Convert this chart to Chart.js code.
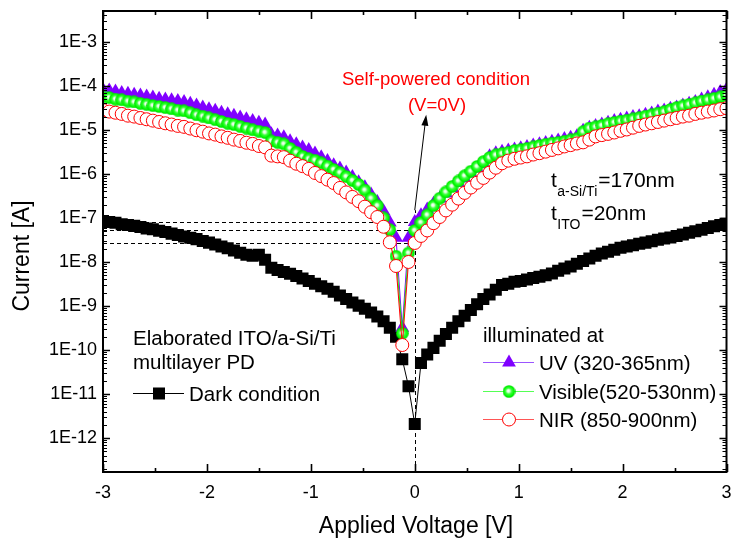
<!DOCTYPE html>
<html>
<head>
<meta charset="utf-8">
<title>I-V curves</title>
<script src="https://cdn.jsdelivr.net/npm/chart.js@4.4.1/dist/chart.umd.min.js"></script>
<style>
  html, body { margin: 0; padding: 0; background: #fff; }
  #wrap { width: 735px; height: 545px; }
</style>
</head>
<body>
<div id="wrap"><canvas id="iv-chart" width="735" height="545"></canvas></div>
<script>
// Applied voltage [V], shared by all sweeps
const voltage = [
  -3, -2.94, -2.88, -2.82, -2.76, -2.7, -2.64, -2.58, -2.52, -2.46,
  -2.4, -2.34, -2.28, -2.22, -2.16, -2.1, -2.04, -1.98, -1.92, -1.86,
  -1.8, -1.74, -1.68, -1.62, -1.56, -1.5, -1.44, -1.38, -1.32, -1.26,
  -1.2, -1.14, -1.08, -1.02, -0.96, -0.9, -0.84, -0.78, -0.72, -0.66,
  -0.6, -0.54, -0.48, -0.42, -0.36, -0.3, -0.24, -0.18, -0.12, -0.06,
  0,
  0.06, 0.12, 0.18, 0.24, 0.3, 0.36, 0.42, 0.48, 0.54, 0.6,
  0.66, 0.72, 0.78, 0.84, 0.9, 0.96, 1.02, 1.08, 1.14, 1.2,
  1.26, 1.32, 1.38, 1.44, 1.5, 1.56, 1.62, 1.68, 1.74, 1.8,
  1.86, 1.92, 1.98, 2.04, 2.1, 2.16, 2.22, 2.28, 2.34, 2.4,
  2.46, 2.52, 2.58, 2.64, 2.7, 2.76, 2.82, 2.88, 2.94, 3
];

// Current [A]
const darkCurrent = [
  8.5e-8, 8.1e-8, 7.8e-8, 7.2e-8, 6.9e-8, 6.6e-8, 6.2e-8, 5.75e-8, 5.5e-8, 5.1e-8,
  4.8e-8, 4.4e-8, 4.1e-8, 3.8e-8, 3.55e-8, 3.3e-8, 3.0e-8, 2.75e-8, 2.5e-8, 2.25e-8,
  2.05e-8, 1.82e-8, 1.62e-8, 1.45e-8, 1.38e-8, 1.45e-8, 1.12e-8, 7.4e-9, 6.6e-9, 5.9e-9,
  5.4e-9, 4.8e-9, 4.2e-9, 3.7e-9, 3.2e-9, 2.8e-9, 2.45e-9, 2.1e-9, 1.74e-9, 1.45e-9,
  1.2e-9, 1.02e-9, 8.7e-10, 7.1e-10, 5.75e-10, 4.5e-10, 3.2e-10, 2.0e-10, 6.2e-11, 1.5e-11,
  2.1e-12,
  5.1e-11, 7.9e-11, 1.12e-10, 1.62e-10, 2.3e-10, 3.2e-10, 4.5e-10, 6.0e-10, 8.1e-10, 1.1e-9,
  1.45e-9, 1.82e-9, 2.35e-9, 3.0e-9, 3.2e-9, 3.55e-9, 3.7e-9, 4.0e-9, 4.3e-9, 4.6e-9,
  5.0e-9, 5.5e-9, 6.3e-9, 7.1e-9, 7.9e-9, 9.1e-9, 1.05e-8, 1.2e-8, 1.38e-8, 1.55e-8,
  1.7e-8, 1.9e-8, 2.1e-8, 2.25e-8, 2.4e-8, 2.6e-8, 2.75e-8, 2.95e-8, 3.2e-8, 3.4e-8,
  3.6e-8, 3.9e-8, 4.2e-8, 4.6e-8, 5.0e-8, 5.4e-8, 5.9e-8, 6.5e-8, 6.9e-8, 7.4e-8
];
const uvCurrent = [
  8.1e-5, 7.8e-5, 7.4e-5, 6.9e-5, 6.6e-5, 6.3e-5, 6.0e-5, 5.75e-5, 5.4e-5, 5.1e-5,
  4.9e-5, 4.7e-5, 4.5e-5, 4.3e-5, 3.9e-5, 3.55e-5, 3.2e-5, 2.95e-5, 2.7e-5, 2.45e-5,
  2.25e-5, 2.1e-5, 1.9e-5, 1.74e-5, 1.58e-5, 1.45e-5, 1.32e-5, 7.9e-6, 7.4e-6, 6.8e-6,
  5.5e-6, 4.7e-6, 4.0e-6, 3.5e-6, 2.9e-6, 2.4e-6, 1.95e-6, 1.58e-6, 1.32e-6, 1.07e-6,
  8.5e-7, 6.5e-7, 5.0e-7, 3.4e-7, 2.3e-7, 1.41e-7, 7.9e-8, 3.55e-8, 3.2e-10, 3.55e-8,
  8.1e-8,
  1.15e-7, 1.55e-7, 2.1e-7, 2.75e-7, 3.6e-7, 4.8e-7, 6.2e-7, 7.9e-7, 1.02e-6, 1.32e-6,
  1.7e-6, 2.5e-6, 2.95e-6, 3.2e-6, 3.4e-6, 3.6e-6, 3.8e-6, 4.1e-6, 4.4e-6, 4.7e-6,
  5.0e-6, 5.4e-6, 5.75e-6, 6.2e-6, 6.6e-6, 7.2e-6, 9.5e-6, 1.12e-5, 1.23e-5, 1.32e-5,
  1.45e-5, 1.58e-5, 1.7e-5, 1.82e-5, 1.95e-5, 2.05e-5, 2.2e-5, 2.35e-5, 2.6e-5, 2.75e-5,
  3.0e-5, 3.2e-5, 3.55e-5, 3.9e-5, 4.3e-5, 4.9e-5, 5.5e-5, 6.3e-5, 7.2e-5, 8.3e-5
];
const visCurrent = [
  5.6e-5, 5.4e-5, 5.0e-5, 4.8e-5, 4.5e-5, 4.3e-5, 4.0e-5, 3.8e-5, 3.55e-5, 3.4e-5,
  3.2e-5, 3.0e-5, 2.8e-5, 2.7e-5, 2.45e-5, 2.2e-5, 2.05e-5, 1.86e-5, 1.7e-5, 1.55e-5,
  1.41e-5, 1.32e-5, 1.2e-5, 1.1e-5, 1.0e-5, 9.3e-6, 8.7e-6, 5.6e-6, 5.2e-6, 4.8e-6,
  3.8e-6, 3.1e-6, 2.5e-6, 2.2e-6, 2.05e-6, 1.78e-6, 1.51e-6, 1.26e-6, 1.07e-6, 8.7e-7,
  7.1e-7, 5.75e-7, 4.3e-7, 2.8e-7, 1.9e-7, 1.0e-7, 5.4e-8, 1.35e-8, 2.4e-10, 1.6e-8,
  5.2e-8,
  7.9e-8, 1.17e-7, 1.9e-7, 2.8e-7, 3.9e-7, 5.2e-7, 6.9e-7, 9.1e-7, 1.15e-6, 1.48e-6,
  1.9e-6, 2.35e-6, 2.7e-6, 2.9e-6, 3.1e-6, 3.4e-6, 3.55e-6, 3.8e-6, 4.1e-6, 4.4e-6,
  4.7e-6, 5.0e-6, 5.2e-6, 5.5e-6, 5.9e-6, 6.3e-6, 9.1e-6, 1.1e-5, 1.17e-5, 1.26e-5,
  1.38e-5, 1.48e-5, 1.58e-5, 1.66e-5, 1.78e-5, 1.9e-5, 2.05e-5, 2.2e-5, 2.4e-5, 2.6e-5,
  2.9e-5, 3.2e-5, 3.5e-5, 3.8e-5, 4.1e-5, 4.5e-5, 4.8e-5, 5.2e-5, 5.6e-5, 6.2e-5
];
const nirCurrent = [
  2.8e-5, 2.6e-5, 2.45e-5, 2.3e-5, 2.1e-5, 2.0e-5, 1.86e-5, 1.74e-5, 1.62e-5, 1.51e-5,
  1.41e-5, 1.32e-5, 1.23e-5, 1.17e-5, 1.07e-5, 9.8e-6, 9.1e-6, 8.3e-6, 7.8e-6, 7.1e-6,
  6.6e-6, 6.0e-6, 5.6e-6, 5.1e-6, 4.8e-6, 4.3e-6, 4.0e-6, 2.6e-6, 2.5e-6, 2.4e-6,
  2.0e-6, 1.7e-6, 1.5e-6, 1.3e-6, 1.05e-6, 8.9e-7, 7.4e-7, 6.2e-7, 4.8e-7, 3.8e-7,
  3.0e-7, 2.4e-7, 1.8e-7, 1.35e-7, 1.05e-7, 6.3e-8, 2.8e-8, 8.1e-9, 1.3e-10, 1.0e-8,
  2.7e-8,
  3.9e-8, 5.2e-8, 7.6e-8, 1.05e-7, 1.48e-7, 2.0e-7, 2.75e-7, 3.7e-7, 4.9e-7, 6.3e-7,
  8.1e-7, 1.07e-6, 1.38e-6, 1.74e-6, 2.0e-6, 2.2e-6, 2.35e-6, 2.5e-6, 2.75e-6, 2.95e-6,
  3.2e-6, 3.5e-6, 3.8e-6, 4.2e-6, 4.5e-6, 4.9e-6, 5.2e-6, 6.0e-6, 7.1e-6, 7.6e-6,
  8.1e-6, 8.7e-6, 9.5e-6, 1.02e-5, 1.12e-5, 1.23e-5, 1.32e-5, 1.41e-5, 1.51e-5, 1.62e-5,
  1.74e-5, 1.86e-5, 2.0e-5, 2.1e-5, 2.3e-5, 2.45e-5, 2.6e-5, 2.75e-5, 2.95e-5, 3.1e-5
];

// axis ticks
const xTicks = [-3, -2, -1, 0, 1, 2, 3];
const xMinorTicks = [-2.5, -1.5, -0.5, 0.5, 1.5, 2.5];
const yDecades = [-12, -11, -10, -9, -8, -7, -6, -5, -4, -3];

// arrow for the "self-powered" note, in data units [V, A]
const arrowFrom = [0, 1.5e-7];
const arrowTo = [0.11, 2.2e-5];

const FONT = '"Liberation Sans", Arial, Helvetica, sans-serif';
Chart.defaults.font.family = FONT;
Chart.defaults.color = '#000';

const pts = (ys) => voltage.map((v, i) => ({ x: v, y: ys[i] }));

// shaded green ball marker
function makeBall() {
  const c = document.createElement('canvas');
  c.width = 13; c.height = 13;
  const g = c.getContext('2d');
  const grad = g.createRadialGradient(5.8, 5.8, 0.2, 6.5, 6.5, 6.4);
  grad.addColorStop(0, '#ffffff');
  grad.addColorStop(0.2, '#d4ffd4');
  grad.addColorStop(0.45, '#3cff3c');
  grad.addColorStop(0.8, '#00f800');
  grad.addColorStop(1, '#00d200');
  g.fillStyle = grad;
  g.beginPath();
  g.arc(6.5, 6.5, 6.3, 0, Math.PI * 2);
  g.fill();
  return c;
}
const ball = makeBall();

function txt(ctx, s, x, y, size, color, align) {
  ctx.font = size + 'px ' + FONT;
  ctx.fillStyle = color || '#000';
  ctx.textAlign = align || 'left';
  ctx.textBaseline = 'alphabetic';
  ctx.fillText(s, x, y);
  return ctx.measureText(s).width;
}

function marker(ctx, kind, cx, cy) {
  ctx.save();
  if (kind === 'rect') {
    ctx.fillStyle = '#000';
    ctx.fillRect(cx - 6, cy - 6, 12, 12);
  } else if (kind === 'tri') {
    ctx.fillStyle = '#8000ff';
    ctx.beginPath();
    ctx.moveTo(cx, cy - 8);
    ctx.lineTo(cx + 6.9, cy + 4);
    ctx.lineTo(cx - 6.9, cy + 4);
    ctx.closePath();
    ctx.fill();
  } else if (kind === 'ball') {
    ctx.drawImage(ball, cx - 6.5, cy - 6.5);
  } else {
    ctx.fillStyle = '#fff';
    ctx.strokeStyle = '#ff0000';
    ctx.lineWidth = 1;
    ctx.beginPath();
    ctx.arc(cx, cy, 6.5, 0, Math.PI * 2);
    ctx.fill();
    ctx.stroke();
  }
  ctx.restore();
}

function legendRow(ctx, kind, color, x, y, label) {
  ctx.save();
  ctx.strokeStyle = color;
  ctx.lineWidth = 1;
  ctx.beginPath();
  ctx.moveTo(x, y);
  ctx.lineTo(x + 51, y);
  ctx.stroke();
  ctx.restore();
  marker(ctx, kind, x + 26, y);
  txt(ctx, label, x + 56, y + 7.5, 20.5);
}

const paperPlugin = {
  id: 'paper',
  beforeDatasetsDraw(chart) {
    const { ctx, scales: { x, y } } = chart;
    const i0 = voltage.indexOf(0);
    const x0 = Math.round(x.getPixelForValue(0)) + 0.5;
    ctx.save();
    ctx.strokeStyle = '#000';
    ctx.lineWidth = 1;
    ctx.setLineDash([4, 3]);
    [uvCurrent, visCurrent, nirCurrent].forEach(s => {
      const py = Math.round(y.getPixelForValue(s[i0])) + 0.5;
      ctx.beginPath();
      ctx.moveTo(x.left, py);
      ctx.lineTo(x0, py);
      ctx.stroke();
    });
    ctx.beginPath();
    ctx.moveTo(x0, y.bottom);
    ctx.lineTo(x0, y.getPixelForValue(arrowFrom[1]));
    ctx.stroke();
    ctx.setLineDash([]);

    // arrow
    const ax = x.getPixelForValue(arrowFrom[0]), ay = y.getPixelForValue(arrowFrom[1]);
    const bx = x.getPixelForValue(arrowTo[0]), by = y.getPixelForValue(arrowTo[1]);
    const ang = Math.atan2(by - ay, bx - ax);
    ctx.beginPath();
    ctx.moveTo(ax, ay);
    ctx.lineTo(bx - 9 * Math.cos(ang), by - 9 * Math.sin(ang));
    ctx.stroke();
    ctx.fillStyle = '#000';
    ctx.beginPath();
    ctx.moveTo(bx, by);
    ctx.lineTo(bx - 11 * Math.cos(ang) + 3.5 * Math.sin(ang), by - 11 * Math.sin(ang) - 3.5 * Math.cos(ang));
    ctx.lineTo(bx - 11 * Math.cos(ang) - 3.5 * Math.sin(ang), by - 11 * Math.sin(ang) + 3.5 * Math.cos(ang));
    ctx.closePath();
    ctx.fill();
    ctx.restore();
  },
  afterDraw(chart) {
    const { ctx, chartArea: a, scales: { x, y } } = chart;
    ctx.save();
    ctx.strokeStyle = '#000';

    // frame
    ctx.lineWidth = 2;
    ctx.strokeRect(a.left, a.top, a.right - a.left, a.bottom - a.top);

    // inward ticks on all four sides
    const hTick = (v, len, w) => {
      const px = Math.round(x.getPixelForValue(v)) + 0.5;
      ctx.lineWidth = w;
      ctx.beginPath();
      ctx.moveTo(px, a.bottom); ctx.lineTo(px, a.bottom - len);
      ctx.moveTo(px, a.top); ctx.lineTo(px, a.top + len);
      ctx.stroke();
    };
    xTicks.forEach(v => hTick(v, 8, 1.6));
    xMinorTicks.forEach(v => hTick(v, 4, 1.6));

    const vTick = (v, len, w) => {
      const py = Math.round(y.getPixelForValue(v)) + 0.5;
      if (py < a.top + 1 || py > a.bottom - 1) return;
      ctx.lineWidth = w;
      ctx.beginPath();
      ctx.moveTo(a.left, py); ctx.lineTo(a.left + len, py);
      ctx.moveTo(a.right, py); ctx.lineTo(a.right - len, py);
      ctx.stroke();
    };
    for (let e = -13; e <= -3; e++) {
      for (let k = 2; k <= 9; k++) vTick(k * Math.pow(10, e), 4, 1);
    }
    yDecades.forEach(e => vTick(Math.pow(10, e), 7, 1.6));

    // axis titles
    txt(ctx, 'Applied Voltage [V]', 416, 533, 23, '#000', 'center');
    ctx.save();
    ctx.translate(29, 256);
    ctx.rotate(-Math.PI / 2);
    txt(ctx, 'Current [A]', 0, 0, 23, '#000', 'center');
    ctx.restore();

    // self-powered note
    txt(ctx, 'Self-powered condition', 436, 85, 18.5, '#ff0000', 'center');
    txt(ctx, '(V=0V)', 437, 111, 18.5, '#ff0000', 'center');

    // thickness labels
    let w = txt(ctx, 't', 551, 187, 21);
    let w2 = txt(ctx, 'a-Si/Ti', 551 + w + 0.5, 196, 14);
    txt(ctx, '=170nm', 551 + w + w2 + 1.5, 187, 21);
    w = txt(ctx, 't', 551, 220, 21);
    w2 = txt(ctx, 'ITO', 551 + w + 0.5, 229, 14);
    txt(ctx, '=20nm', 551 + w + w2 + 1.5, 220, 21);

    // legend: dark
    txt(ctx, 'Elaborated ITO/a-Si/Ti', 133, 345, 20.5);
    txt(ctx, 'multilayer PD', 133, 368.5, 20.5);
    legendRow(ctx, 'rect', '#000', 133, 393.5, 'Dark condition');

    // legend: illuminated
    txt(ctx, 'illuminated at', 483, 341.5, 20.5);
    legendRow(ctx, 'tri', '#9b55ff', 483, 362.5, 'UV (320-365nm)');
    legendRow(ctx, 'ball', '#55ff55', 483, 391.5, 'Visible(520-530nm)');
    legendRow(ctx, 'circle', '#ff5555', 483, 419.5, 'NIR (850-900nm)');

    ctx.restore();
  }
};

const ctx = document.getElementById('iv-chart').getContext('2d');
const ivChart = new Chart(ctx, {
  type: 'scatter',
  data: {
    datasets: [
      {
        label: 'NIR (850-900nm)',
        data: pts(nirCurrent),
        showLine: true,
        borderColor: '#ff0000',
        borderWidth: 1,
        pointStyle: 'circle',
        pointRadius: 6.5,
        pointBackgroundColor: '#ffffff',
        pointBorderColor: '#ff0000',
        pointBorderWidth: 1,
        clip: 0,
        order: 0
      },
      {
        label: 'Visible(520-530nm)',
        data: pts(visCurrent),
        showLine: true,
        borderColor: '#00ff00',
        borderWidth: 1,
        pointStyle: ball,
        pointRadius: 6.5,
        clip: 0,
        order: 1
      },
      {
        label: 'UV (320-365nm)',
        data: pts(uvCurrent),
        showLine: true,
        borderColor: '#8000ff',
        borderWidth: 1,
        pointStyle: 'triangle',
        pointRadius: 8,
        pointBackgroundColor: '#8000ff',
        pointBorderColor: '#8000ff',
        pointBorderWidth: 0,
        clip: 0,
        order: 2
      },
      {
        label: 'Dark condition',
        data: pts(darkCurrent),
        showLine: true,
        borderColor: '#000000',
        borderWidth: 1,
        pointStyle: 'rect',
        pointRadius: 8.5,
        pointBackgroundColor: '#000000',
        pointBorderColor: '#000000',
        pointBorderWidth: 0,
        clip: 0,
        order: 3
      }
    ]
  },
  options: {
    responsive: false,
    devicePixelRatio: 1,
    animation: false,
    events: [],
    layout: { padding: { left: 0, right: 5, top: 11, bottom: 0 } },
    plugins: {
      legend: { display: false },
      tooltip: { enabled: false },
      title: { display: false }
    },
    scales: {
      x: {
        type: 'linear',
        min: -3,
        max: 3,
        grid: { display: false, drawTicks: false },
        border: { display: false },
        afterBuildTicks: s => { s.ticks = xTicks.map(v => ({ value: v })); },
        afterFit: s => {
          s.height = 73;
          s.paddingLeft = 0; s.paddingRight = 0; s.paddingTop = 0; s.paddingBottom = 0;
        },
        ticks: {
          padding: 10,
          autoSkip: false,
          maxRotation: 0,
          font: { size: 18 },
          color: '#000',
          callback: v => String(v)
        }
      },
      y: {
        type: 'logarithmic',
        min: 1.7e-13,
        max: 5e-3,
        grid: { display: false, drawTicks: false },
        border: { display: false },
        afterBuildTicks: s => { s.ticks = yDecades.map(e => ({ value: Math.pow(10, e) })); },
        afterFit: s => {
          s.width = 103;
          s.paddingLeft = 0; s.paddingRight = 0; s.paddingTop = 0; s.paddingBottom = 0;
        },
        ticks: {
          padding: 6,
          autoSkip: false,
          font: { size: 18 },
          color: '#000',
          callback: v => '1E' + Math.round(Math.log10(v))
        }
      }
    }
  },
  plugins: [paperPlugin]
});
</script>
</body>
</html>
